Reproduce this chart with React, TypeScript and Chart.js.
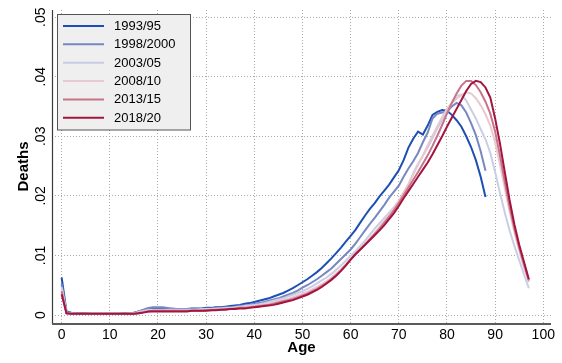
import React, { useEffect, useRef } from "react";
import { Chart, registerables } from "chart.js";

Chart.register(...registerables);

const AGES = [
  0, 1, 2, 3, 4, 5, 6, 7, 8, 9, 10, 11, 12, 13, 14, 15, 16, 17, 18, 19,
  20, 21, 22, 23, 24, 25, 26, 27, 28, 29, 30, 31, 32, 33, 34, 35, 36, 37, 38, 39,
  40, 41, 42, 43, 44, 45, 46, 47, 48, 49, 50, 51, 52, 53, 54, 55, 56, 57, 58, 59,
  60, 61, 62, 63, 64, 65, 66, 67, 68, 69, 70, 71, 72, 73, 74, 75, 76, 77, 78, 79,
  80, 81, 82, 83, 84, 85, 86, 87, 88, 89, 90, 91, 92, 93, 94, 95, 96, 97,
];

const SERIES_LABELS = ["1993/95", "1998/2000", "2003/05", "2008/10", "2013/15", "2018/20"];
const SERIES_COLORS = ["#1d4fb3", "#7787c4", "#c9cde6", "#e9c9d0", "#c7748a", "#a3143f"];

const D_1993 = [
  0.0063, 0.0006, 0.0004, 0.0003, 0.0003, 0.0003, 0.0002, 0.0002, 0.0002, 0.0002,
  0.0002, 0.0002, 0.0002, 0.0003, 0.0003, 0.0004, 0.0006, 0.0008, 0.0010, 0.0011,
  0.0011, 0.0011, 0.0010, 0.0010, 0.0010, 0.0010, 0.0010, 0.0011, 0.0011, 0.0011,
  0.0012, 0.0012, 0.0013, 0.0013, 0.0014, 0.0015, 0.0016, 0.0017, 0.0019, 0.0020,
  0.0022, 0.0024, 0.0026, 0.0028, 0.0031, 0.0034, 0.0037, 0.0041, 0.0045, 0.0050,
  0.0055, 0.0060, 0.0066, 0.0072, 0.0079, 0.0087, 0.0095, 0.0104, 0.0113, 0.0123,
  0.0133, 0.0143, 0.0155, 0.0167, 0.0178, 0.0188, 0.0199, 0.0209, 0.0219, 0.0231,
  0.0243, 0.0260, 0.0281, 0.0296, 0.0308, 0.0303, 0.0318, 0.0336, 0.0341, 0.0344,
  0.0343, 0.0336, 0.0327, 0.0316, 0.0300, 0.0282, 0.0260, 0.0232, 0.0198,
];

const D_1998 = [
  0.0052, 0.0005, 0.0003, 0.0003, 0.0002, 0.0002, 0.0002, 0.0002, 0.0002, 0.0002,
  0.0002, 0.0002, 0.0002, 0.0002, 0.0003, 0.0004, 0.0006, 0.0009, 0.0012, 0.0013,
  0.0013, 0.0013, 0.0012, 0.0011, 0.0010, 0.0010, 0.0010, 0.0010, 0.0010, 0.0010,
  0.0011, 0.0011, 0.0011, 0.0012, 0.0012, 0.0013, 0.0014, 0.0015, 0.0016, 0.0017,
  0.0019, 0.0020, 0.0022, 0.0024, 0.0026, 0.0028, 0.0031, 0.0034, 0.0037, 0.0041,
  0.0046, 0.0050, 0.0055, 0.0060, 0.0066, 0.0072, 0.0078, 0.0086, 0.0094, 0.0102,
  0.0110, 0.0120, 0.0131, 0.0142, 0.0153, 0.0163, 0.0174, 0.0185, 0.0197, 0.0207,
  0.0217, 0.0232, 0.0246, 0.0258, 0.0272, 0.0290, 0.0306, 0.0330, 0.0338, 0.0340,
  0.0342, 0.0350, 0.0356, 0.0352, 0.0340, 0.0322, 0.0302, 0.0275, 0.0242,
];

const D_2003 = [
  0.0047, 0.0004, 0.0003, 0.0002, 0.0002, 0.0002, 0.0002, 0.0002, 0.0002, 0.0002,
  0.0002, 0.0002, 0.0002, 0.0002, 0.0003, 0.0003, 0.0005, 0.0007, 0.0009, 0.0009,
  0.0009, 0.0009, 0.0009, 0.0009, 0.0009, 0.0009, 0.0009, 0.0009, 0.0009, 0.0010,
  0.0010, 0.0010, 0.0011, 0.0011, 0.0012, 0.0012, 0.0013, 0.0014, 0.0015, 0.0016,
  0.0017, 0.0018, 0.0020, 0.0022, 0.0024, 0.0026, 0.0028, 0.0031, 0.0034, 0.0037,
  0.0040, 0.0044, 0.0048, 0.0053, 0.0058, 0.0063, 0.0069, 0.0076, 0.0083, 0.0091,
  0.0099, 0.0107, 0.0116, 0.0125, 0.0135, 0.0145, 0.0154, 0.0163, 0.0172, 0.0181,
  0.0191, 0.0204, 0.0219, 0.0238, 0.0254, 0.0267, 0.0281, 0.0297, 0.0313, 0.0327,
  0.0340, 0.0355, 0.0368, 0.0370, 0.0360, 0.0345, 0.0330, 0.0312, 0.0295, 0.0272,
  0.0240, 0.0205, 0.0172, 0.0142, 0.0116, 0.0092, 0.0068, 0.0045,
];

const D_2008 = [
  0.0043, 0.0004, 0.0002, 0.0002, 0.0002, 0.0002, 0.0002, 0.0002, 0.0002, 0.0002,
  0.0002, 0.0002, 0.0002, 0.0002, 0.0002, 0.0003, 0.0004, 0.0006, 0.0007, 0.0008,
  0.0008, 0.0008, 0.0008, 0.0007, 0.0007, 0.0007, 0.0007, 0.0008, 0.0008, 0.0008,
  0.0009, 0.0009, 0.0010, 0.0010, 0.0011, 0.0011, 0.0012, 0.0013, 0.0013, 0.0014,
  0.0015, 0.0016, 0.0018, 0.0019, 0.0021, 0.0023, 0.0025, 0.0027, 0.0030, 0.0033,
  0.0036, 0.0039, 0.0043, 0.0047, 0.0052, 0.0057, 0.0063, 0.0070, 0.0077, 0.0085,
  0.0094, 0.0103, 0.0111, 0.0120, 0.0129, 0.0138, 0.0148, 0.0158, 0.0169, 0.0180,
  0.0192, 0.0206, 0.0220, 0.0236, 0.0252, 0.0268, 0.0285, 0.0301, 0.0317, 0.0332,
  0.0346, 0.0356, 0.0363, 0.0369, 0.0374, 0.0372, 0.0364, 0.0352, 0.0337, 0.0318,
  0.0290, 0.0253, 0.0213, 0.0174, 0.0139, 0.0108, 0.0080, 0.0055,
];

const D_2013 = [
  0.0040, 0.0003, 0.0002, 0.0002, 0.0002, 0.0002, 0.0002, 0.0002, 0.0002, 0.0002,
  0.0002, 0.0002, 0.0002, 0.0002, 0.0002, 0.0002, 0.0003, 0.0005, 0.0006, 0.0007,
  0.0007, 0.0007, 0.0007, 0.0007, 0.0007, 0.0007, 0.0007, 0.0007, 0.0007, 0.0007,
  0.0008, 0.0008, 0.0009, 0.0009, 0.0010, 0.0010, 0.0011, 0.0012, 0.0012, 0.0013,
  0.0014, 0.0015, 0.0016, 0.0017, 0.0019, 0.0021, 0.0023, 0.0025, 0.0027, 0.0030,
  0.0033, 0.0036, 0.0040, 0.0044, 0.0049, 0.0054, 0.0060, 0.0067, 0.0075, 0.0084,
  0.0093, 0.0102, 0.0110, 0.0118, 0.0127, 0.0136, 0.0145, 0.0155, 0.0165, 0.0176,
  0.0188, 0.0201, 0.0214, 0.0227, 0.0240, 0.0254, 0.0268, 0.0284, 0.0301, 0.0319,
  0.0338, 0.0356, 0.0372, 0.0385, 0.0393, 0.0393, 0.0386, 0.0374, 0.0358, 0.0338,
  0.0308, 0.0268, 0.0224, 0.0182, 0.0145, 0.0113, 0.0085, 0.0058,
];

const D_2018 = [
  0.0035, 0.0003, 0.0002, 0.0002, 0.0002, 0.0002, 0.0002, 0.0002, 0.0002, 0.0002,
  0.0002, 0.0002, 0.0002, 0.0002, 0.0002, 0.0002, 0.0003, 0.0004, 0.0006, 0.0006,
  0.0006, 0.0006, 0.0006, 0.0006, 0.0006, 0.0006, 0.0006, 0.0007, 0.0007, 0.0007,
  0.0007, 0.0008, 0.0008, 0.0009, 0.0009, 0.0010, 0.0010, 0.0011, 0.0011, 0.0012,
  0.0013, 0.0014, 0.0015, 0.0016, 0.0017, 0.0019, 0.0021, 0.0023, 0.0025, 0.0028,
  0.0031, 0.0034, 0.0038, 0.0042, 0.0047, 0.0053, 0.0059, 0.0066, 0.0074, 0.0083,
  0.0093, 0.0102, 0.0110, 0.0118, 0.0126, 0.0134, 0.0142, 0.0151, 0.0161, 0.0171,
  0.0183, 0.0196, 0.0208, 0.0220, 0.0232, 0.0244, 0.0256, 0.0270, 0.0285, 0.0300,
  0.0316, 0.0331, 0.0346, 0.0361, 0.0376, 0.0388, 0.0393, 0.0391, 0.0382, 0.0365,
  0.0330, 0.0288, 0.0240, 0.0193, 0.0152, 0.0118, 0.0089, 0.0060,
];

const SERIES_VALUES = [D_1993, D_1998, D_2003, D_2008, D_2013, D_2018];

const X_TICKS = [0, 10, 20, 30, 40, 50, 60, 70, 80, 90, 100];
const Y_TICKS = [0, 0.01, 0.02, 0.03, 0.04, 0.05];
const Y_TICK_LABELS = ["0", ".01", ".02", ".03", ".04", ".05"];

const FONT = "'Liberation Sans', Arial, Helvetica, sans-serif";

const overlayPlugin = {
  id: "overlay",
  beforeDatasetsDraw(chart: any) {
    const { ctx, chartArea } = chart;
    ctx.save();
    ctx.strokeStyle = "#3a3a3a";
    ctx.lineWidth = 1.2;
    ctx.beginPath();
    ctx.moveTo(chartArea.left + 0.5, chartArea.top);
    ctx.lineTo(chartArea.left + 0.5, chartArea.bottom + 1);
    ctx.stroke();
    ctx.strokeStyle = "#5a5a5a";
    ctx.lineWidth = 2;
    ctx.beginPath();
    ctx.moveTo(chartArea.left, chartArea.bottom + 1);
    ctx.lineTo(chartArea.right, chartArea.bottom + 1);
    ctx.stroke();
    ctx.restore();
  },
  afterDraw(chart: any) {
    const { ctx, scales } = chart;
    const y = scales.y;
    ctx.save();
    ctx.fillStyle = "#000";
    ctx.font = `14px ${FONT}`;
    Y_TICKS.forEach((v, i) => {
      const py = y.getPixelForValue(v);
      ctx.save();
      ctx.translate(45, py);
      ctx.rotate(-Math.PI / 2);
      ctx.textAlign = "center";
      ctx.textBaseline = "alphabetic";
      ctx.fillText(Y_TICK_LABELS[i], 0, 0);
      ctx.restore();
    });

    // legend box
    const bx = 57.5, by = 14.5, bw = 133, bh = 115.5;
    ctx.fillStyle = "#efefef";
    ctx.fillRect(bx, by, bw, bh);
    ctx.strokeStyle = "#555";
    ctx.lineWidth = 1;
    ctx.strokeRect(bx, by, bw, bh);
    ctx.font = `13px ${FONT}`;
    ctx.textAlign = "left";
    ctx.textBaseline = "middle";
    SERIES_LABELS.forEach((lab, i) => {
      const cy = 26 + i * 18.35;
      ctx.strokeStyle = SERIES_COLORS[i];
      ctx.lineWidth = 2;
      ctx.beginPath();
      ctx.moveTo(63, cy);
      ctx.lineTo(104, cy);
      ctx.stroke();
      ctx.fillStyle = "#000";
      ctx.fillText(lab, 114, cy + 0.5);
    });
    ctx.restore();
  },
};

export default function App() {
  const ref = useRef<HTMLCanvasElement | null>(null);

  useEffect(() => {
    const canvas = ref.current;
    if (!canvas) return;
    const datasets = SERIES_LABELS.map((label, i) => ({
      label,
      data: SERIES_VALUES[i].map((v, k) => ({ x: AGES[k], y: v })),
      borderColor: SERIES_COLORS[i],
      backgroundColor: SERIES_COLORS[i],
      borderWidth: 2,
      pointRadius: 0,
      tension: 0,
      fill: false,
      order: SERIES_LABELS.length - i,
    }));

    const chart = new Chart(canvas, {
      type: "line",
      data: { datasets },
      options: {
        animation: false,
        responsive: false,
        devicePixelRatio: 1,
        layout: { padding: { top: 10, right: 11, left: 0, bottom: 0 } },
        plugins: { legend: { display: false }, tooltip: { enabled: false } },
        scales: {
          x: {
            type: "linear",
            min: -2,
            max: 101.6,
            afterBuildTicks: (s: any) => {
              s.ticks = X_TICKS.map((v) => ({ value: v }));
            },
            afterFit: (s: any) => {
              s.height = 40;
            },
            grid: { color: "#a8a8a8", lineWidth: 1, drawTicks: false },
            border: { display: false, dash: [1, 2] },
            ticks: {
              color: "#000",
              font: { family: FONT, size: 14 },
              padding: 4,
              maxRotation: 0,
              callback: (v: any) => String(v),
            },
            title: {
              display: true,
              text: "Age",
              color: "#000",
              font: { family: FONT, size: 15, weight: "bold" },
              padding: { top: 0, bottom: 6.5 },
            },
          },
          y: {
            type: "linear",
            min: -0.00134,
            max: 0.0512,
            afterBuildTicks: (s: any) => {
              s.ticks = Y_TICKS.map((v) => ({ value: v }));
            },
            afterFit: (s: any) => {
              s.width = 52;
            },
            grid: { color: "#a8a8a8", lineWidth: 1, drawTicks: false },
            border: { display: false, dash: [1, 2] },
            ticks: { display: false },
            title: {
              display: true,
              text: "Deaths",
              color: "#000",
              font: { family: FONT, size: 15, weight: "bold" },
              padding: { top: 15, bottom: 0 },
            },
          },
        },
      },
      plugins: [overlayPlugin],
    } as any);

    return () => chart.destroy();
  }, []);

  return (
    <div style={{ position: "fixed", left: 0, top: 0, width: 562, height: 363, background: "#fff" }}>
      <canvas ref={ref} width={562} height={363} style={{ display: "block", width: 562, height: 363 }} />
    </div>
  );
}
